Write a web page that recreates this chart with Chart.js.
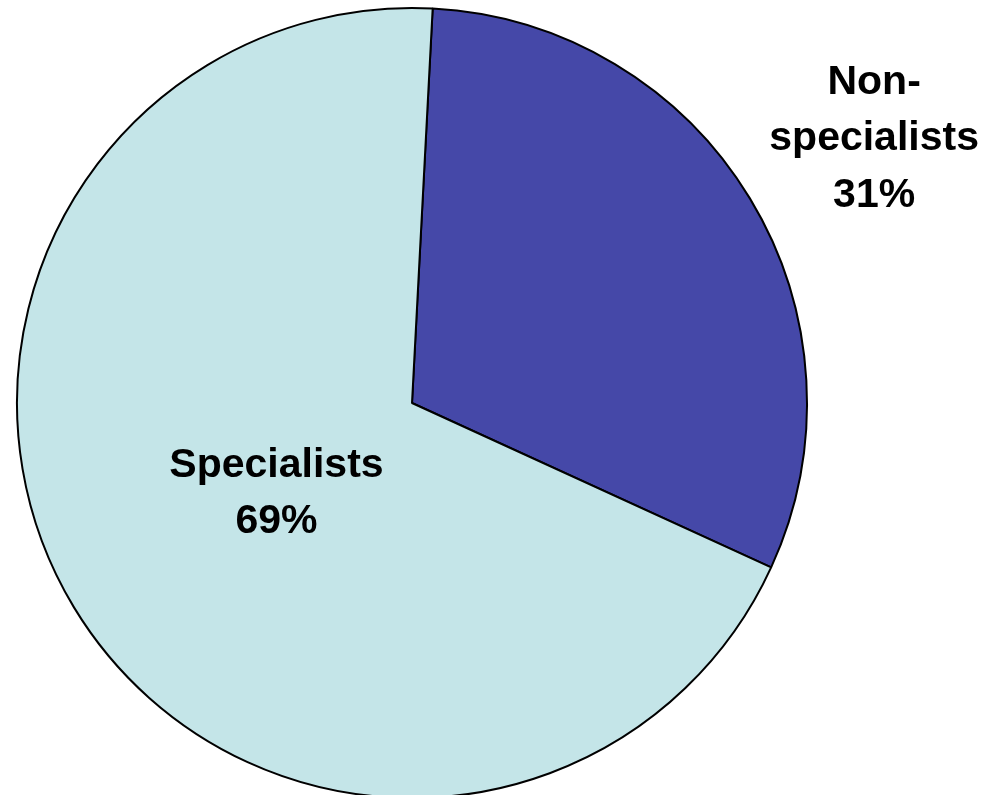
<!DOCTYPE html>
<html>
<head>
<meta charset="utf-8">
<script src="https://cdn.jsdelivr.net/npm/chart.js@4/dist/chart.umd.min.js"></script>
<style>
	body { margin: 0; background: #fff; overflow: hidden; }
	#wrap { width: 985px; height: 795px; overflow: hidden; }
</style>
</head>
<body>
<div id="wrap"><canvas id="mycanvas" width="985" height="800"></canvas></div>
<script>
var categories = ["Non-specialists", "Specialists"];
var shares = [31, 69];
var labelLines = [["Non-", "specialists", "31%"], ["Specialists", "69%"]];

var colors = ["#4548A8", "#C4E5E8"];
var labelRadius = [1.35, 0.41];
var labelShift = [[6, 12], [3, 7]];

var sliceLabels = {
	id: "sliceLabels",
	afterDraw: function(chart) {
		var ctx = chart.ctx;
		var arcs = chart.getDatasetMeta(0).data;
		ctx.save();
		ctx.font = "bold 41px 'Liberation Sans', Arial, sans-serif";
		ctx.fillStyle = "#000";
		ctx.textAlign = "center";
		ctx.textBaseline = "middle";
		for (var i = 0; i < arcs.length; i++) {
			var a = arcs[i];
			var mid = (a.startAngle + a.endAngle) / 2;
			var r = a.outerRadius * labelRadius[i];
			var cx = a.x + Math.cos(mid) * r + labelShift[i][0];
			var cy = a.y + Math.sin(mid) * r + labelShift[i][1];
			var lines = labelLines[i];
			var lh = 56.5;
			var y0 = cy - (lines.length - 1) * lh / 2;
			for (var j = 0; j < lines.length; j++) {
				ctx.fillText(lines[j], cx, y0 + j * lh);
			}
		}
		ctx.restore();
	}
};

var chartdata = {
	labels: categories,
	datasets: [
		{
			data: shares,
			backgroundColor: colors,
			borderColor: "#000",
			borderWidth: 2
		}
	]
};

var ctx = document.getElementById("mycanvas");

var PieGraph = new Chart(ctx, {
	type: "pie",
	data: chartdata,
	plugins: [sliceLabels],
	options: {
		responsive: false,
		animation: false,
		rotation: 3,
		radius: 395,
		layout: { padding: { left: 16, top: 7, right: 177, bottom: 1 } },
		plugins: {
			legend: { display: false },
			tooltip: { enabled: false }
		}
	}
});
</script>
</body>
</html>
